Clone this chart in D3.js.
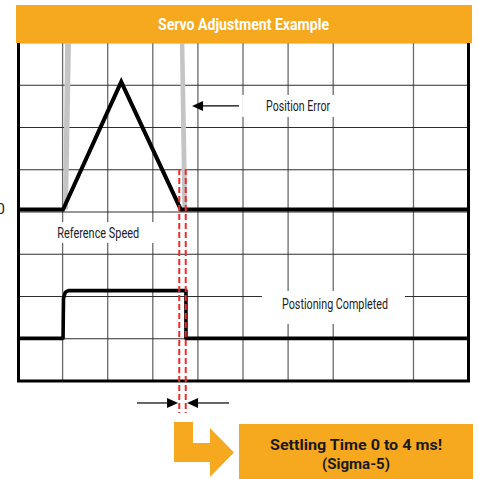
<!DOCTYPE html>
<html>
<head>
<meta charset="utf-8">
<script src="https://cdn.jsdelivr.net/npm/d3@7"></script>
<style>
  html, body { margin: 0; padding: 0; background: #fff; }
  svg { display: block; }
</style>
</head>
<body>
<svg id="chart" width="478" height="479"></svg>
<script>
// ---- data (time in grid divisions, level in grid divisions from bottom) ----
const title = "Servo Adjustment Example";
const vGridTimes = [1, 2, 3, 4, 5, 6, 7, 8.78];
const hGridLevels = [1, 2, 3, 4, 5, 6, 7];
const referenceSpeed = [[0, 4.06], [1.01, 4.06], [2.3, 7.08], [3.62, 4.06], [10, 4.06]];
const positioningCompleted = [[0, 1.01], [1.01, 1.01], [1.02, 1.95], [1.06, 2.1], [1.13, 2.14], [3.735, 2.14], [3.735, 1.01], [10, 1.01]];
const positionErrorSpike1 = [[1.01, 4.06], [1.055, 8], [1.186, 8], [1.12, 4.06]];
const positionErrorSpike2 = [[3.6, 8], [3.7, 8], [3.765, 4.1], [3.655, 4.1]];
const settlingMarkers = [3.587, 3.73];
const settlingRange = [5.02, -0.76];
const labels = [
  { text: "Position Error", t: 6.22, v: 6.51, box: [4.98, 7.07, 6.77, 6.25] },
  { text: "Reference Speed", t: 1.79, v: 3.5, box: [0.6, 3.04, 3.76, 3.27] },
  { text: "Postioning Completed", t: 7.04, v: 1.82, box: [5.42, 8.59, 2.13, 1.35] }
];
const labelWidths = [64, 82, 106];
const zeroLabel = { text: "0", v: 4.06 };
const calloutLines = ["Settling Time 0 to 4 ms!", "(Sigma-5)"];
const calloutWidths = [172, 68];

// ---- scales ----
const svg = d3.select("#chart");
const x = d3.scaleLinear().domain([0, 10]).range([17.5, 468.5]);
const y = d3.scaleLinear().domain([0, 8]).range([381, 43]);
const ORANGE = "#F6A81F";
const FONT = "Roboto, 'Liberation Sans', Arial, sans-serif";

// grid
svg.append("g").selectAll("line").data(vGridTimes).join("line")
  .attr("x1", d => x(d)).attr("x2", d => x(d))
  .attr("y1", y(8)).attr("y2", y(0))
  .attr("stroke", "#6a6a6a").attr("stroke-width", 1.3);
svg.append("g").selectAll("line").data(hGridLevels).join("line")
  .attr("x1", x(0)).attr("x2", x(10))
  .attr("y1", d => y(d)).attr("y2", d => y(d))
  .attr("stroke", "#2e2e2e").attr("stroke-width", 1.2);

// white label boxes
svg.append("g").selectAll("rect").data(labels).join("rect")
  .attr("x", d => x(d.box[0])).attr("width", d => x(d.box[1]) - x(d.box[0]))
  .attr("y", d => y(d.box[2])).attr("height", d => y(d.box[3]) - y(d.box[2]))
  .attr("fill", "#fff");

// borders
svg.append("line").attr("x1", x(0)).attr("x2", x(10)).attr("y1", y(8)).attr("y2", y(8))
  .attr("stroke", "#999").attr("stroke-width", 1);
svg.append("path")
  .attr("d", `M${x(0) + 1},${y(8)} L${x(0) + 1},${y(0)} L${x(10)},${y(0)} L${x(10)},${y(8)}`)
  .attr("fill", "none").attr("stroke", "#000").attr("stroke-width", 3);

// position error (gray spikes)
const poly = d3.line().x(d => x(d[0])).y(d => y(d[1]));
[positionErrorSpike1, positionErrorSpike2].forEach(s => {
  svg.append("path").attr("d", poly(s) + "Z").attr("fill", "#c4c4c4");
});

// signals
svg.append("path").attr("d", poly(referenceSpeed))
  .attr("fill", "none").attr("stroke", "#000").attr("stroke-width", 4)
  .attr("stroke-linejoin", "miter");
svg.append("path").attr("d", poly(positioningCompleted))
  .attr("fill", "none").attr("stroke", "#000").attr("stroke-width", 3.6)
  .attr("stroke-linejoin", "round");

// red dashed settling markers
svg.append("g").selectAll("line").data(settlingMarkers).join("line")
  .attr("x1", d => x(d)).attr("x2", d => x(d))
  .attr("y1", y(settlingRange[0])).attr("y2", y(settlingRange[1]))
  .attr("stroke", "#EC2B2B").attr("stroke-width", 2)
  .attr("stroke-dasharray", "6,3");

// arrows
function arrow(fromT, tipT, v) {
  const y0 = y(v), xt = x(tipT), xf = x(fromT);
  const dir = Math.sign(tipT - fromT);
  const base = xt - dir * 11;
  svg.append("line").attr("x1", xf).attr("x2", base).attr("y1", y0).attr("y2", y0)
    .attr("stroke", "#000").attr("stroke-width", 1.2);
  svg.append("path").attr("d", `M${xt},${y0} L${base},${y0 - 5} L${base},${y0 + 5} Z`).attr("fill", "#000");
}
arrow(4.91, 3.87, 6.51);
arrow(2.65, 3.56, -0.52);
arrow(4.69, 3.76, -0.52);

// labels
svg.append("g").selectAll("text").data(labels).join("text")
  .attr("x", d => x(d.t)).attr("y", d => y(d.v))
  .attr("text-anchor", "middle").attr("dominant-baseline", "central")
  .attr("font-family", FONT)
  .attr("font-size", 14).attr("fill", "#222")
  .attr("textLength", (d, i) => labelWidths[i]).attr("lengthAdjust", "spacingAndGlyphs")
  .text(d => d.text);
svg.append("text").attr("x", 5).attr("y", y(zeroLabel.v))
  .attr("text-anchor", "end").attr("dominant-baseline", "central")
  .attr("font-family", FONT).attr("font-size", 15).attr("fill", "#222")
  .text(zeroLabel.text);

// header
svg.append("rect").attr("x", 16).attr("y", 5).attr("width", 456).attr("height", 38).attr("fill", ORANGE);
svg.append("text").attr("x", 243.5).attr("y", 24)
  .attr("text-anchor", "middle").attr("dominant-baseline", "central")
  .attr("font-family", FONT)
  .attr("font-weight", "bold").attr("font-size", 17).attr("fill", "#fff")
  .attr("textLength", 171).attr("lengthAdjust", "spacingAndGlyphs")
  .text(title);

// orange callout arrow + box
svg.append("path")
  .attr("d", "M174,422 L193,422 L193,443 L210,443 L210,428 L234,452.5 L210,477 L210,462 L174,462 Z")
  .attr("fill", ORANGE);
svg.append("rect").attr("x", 239).attr("y", 424).attr("width", 234).attr("height", 60).attr("fill", ORANGE);
svg.append("g").selectAll("text").data(calloutLines).join("text")
  .attr("x", 356).attr("y", (d, i) => 445 + i * 19)
  .attr("text-anchor", "middle").attr("dominant-baseline", "central")
  .attr("font-family", FONT)
  .attr("font-weight", "bold").attr("font-size", 15).attr("fill", "#1a1a1a")
  .attr("textLength", (d, i) => calloutWidths[i]).attr("lengthAdjust", "spacingAndGlyphs")
  .text(d => d);
</script>
</body>
</html>
